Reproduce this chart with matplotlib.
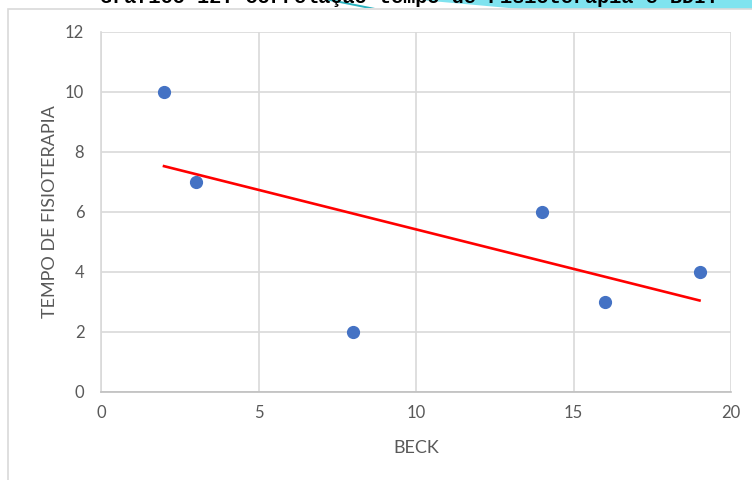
import numpy as np
import matplotlib
matplotlib.use('Agg')
import matplotlib.pyplot as plt
from matplotlib.patches import Polygon, Rectangle

# data
beck = [2, 3, 8, 14, 16, 19]
tempo = [10, 7, 2, 6, 3, 4]
x_ticks = [0, 5, 10, 15, 20]
y_ticks = [0, 2, 4, 6, 8, 10, 12]

grey_txt = '#595959'
plt.rcParams['font.family'] = ['Lato', 'DejaVu Sans']

fig = plt.figure(figsize=(7.52, 4.8), dpi=100)
fig.patch.set_facecolor('white')

# scrap of the page above the chart: cyan blob + clipped caption
fig.patches.append(Polygon([[420/752, 1], [752/752, 1], [752/752, 1-9/480], [520/752, 1-9/480]],
                           closed=True, transform=fig.transFigure, fc='#7fe3ef', ec='none',
                           zorder=-3))
fig.patches.append(Polygon([[325/752, 1], [335/752, 1], [375/752, 1-8/480], [365/752, 1-8/480]],
                           closed=True, transform=fig.transFigure, fc='#2bb3c0', ec='none',
                           zorder=-3))
fig.text(100/752, 1-3/480, 'Gráfico 12. Correlação tempo de Fisioterapia e BDI.',
         family='Liberation Mono', fontsize=14.5, weight='bold', color='black',
         ha='left', va='baseline', zorder=-2)

# chart frame
fig.patches.append(Rectangle((8/752, -0.1), 1.2, 1-9/480+0.1, transform=fig.transFigure,
                             fc='white', ec='#d9d9d9', lw=1.2, zorder=-1))

ax = fig.add_axes([101/752, 88/480, 630/752, 360/480])
ax.patch.set_alpha(0)
ax.set_xlim(0, 20)
ax.set_ylim(0, 12)
ax.set_xticks(x_ticks)
ax.set_yticks(y_ticks)
ax.grid(True, color='#d9d9d9', lw=1.2)
ax.set_axisbelow(True)
for s in ['top', 'right']:
    ax.spines[s].set_visible(False)
ax.spines['left'].set_color('#d9d9d9')
ax.spines['bottom'].set_color('#bfbfbf')
ax.spines['left'].set_linewidth(1.2)
ax.spines['bottom'].set_linewidth(1.2)
ax.tick_params(length=0, labelsize=12, labelcolor=grey_txt)
ax.tick_params(axis='y', pad=12)
ax.tick_params(axis='x', pad=9)

ax.plot(beck, tempo, 'o', color='#4472c4', ms=8.5, zorder=3, clip_on=False)

# linear trend line
k, b = np.polyfit(beck, tempo, 1)
xs = np.array([min(beck), max(beck)])
ax.plot(xs, k*xs + b, color='#ff0000', lw=1.9, zorder=4)

ax.set_xlabel('BECK', fontsize=13, color=grey_txt, labelpad=14)
ax.set_ylabel('TEMPO DE FISIOTERAPIA', fontsize=13, color=grey_txt, labelpad=5)

fig.savefig('out.png', dpi=100)
